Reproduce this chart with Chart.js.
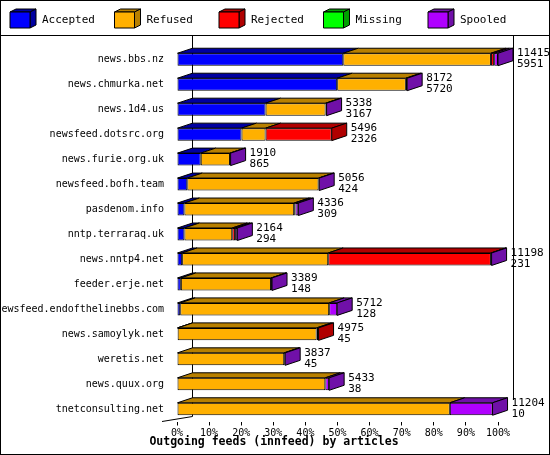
<!DOCTYPE html>
<html>
<head>
<meta charset="utf-8">
<script src="https://cdn.jsdelivr.net/npm/chart.js"></script>
<style>
  body { margin: 0; background: #fff; }
  canvas { display: block; }
</style>
</head>
<body>
<canvas id="feeds" width="550" height="455"></canvas>
<script>
// data (segment lengths in % of axis)
const hosts = ['news.bbs.nz', 'news.chmurka.net', 'news.1d4.us', 'newsfeed.dotsrc.org', 'news.furie.org.uk',
  'newsfeed.bofh.team', 'pasdenom.info', 'nntp.terraraq.uk', 'news.nntp4.net', 'feeder.erje.net',
  'newsfeed.endofthelinebbs.com', 'news.samoylyk.net', 'weretis.net', 'news.quux.org', 'tnetconsulting.net'];
const accepted = [51.8, 49.9, 27.6, 20.1, 7.4, 3.2, 2.3, 2.3, 1.6, 1.2, 1.0, 0.2, 0, 0, 0];
const refused = [46.0, 21.4, 18.7, 7.5, 9.1, 40.9, 34.2, 14.9, 45.5, 28.1, 46.4, 43.3, 33.4, 46.2, 85.0];
const rejected = [1.0, 0, 0, 20.6, 0, 0, 0.4, 0.9, 50.7, 0, 0, 0.6, 0, 0, 0];
const missing = [0, 0, 0, 0, 0, 0, 0, 0, 0, 0, 0, 0, 0, 0, 0];
const spooled = [1.2, 0.4, 0.3, 0, 0.2, 0.2, 0.9, 0.7, 0.2, 0.3, 2.5, 0, 0.3, 1.2, 13.3];
const totals = [11415, 8172, 5338, 5496, 1910, 5056, 4336, 2164, 11198, 3389, 5712, 4975, 3837, 5433, 11204];
const seconds = [5951, 5720, 3167, 2326, 865, 424, 309, 294, 231, 148, 128, 45, 45, 38, 10];
const xTicks = [0, 10, 20, 30, 40, 50, 60, 70, 80, 90, 100];

const names = ['Accepted', 'Refused', 'Rejected', 'Missing', 'Spooled'];
const front = ['#0000ff', '#ffb000', '#ff0000', '#00ff00', '#b000ff'];
const side = ['#0000a0', '#b88000', '#b00000', '#00a000', '#7010a8'];
const series = [accepted, refused, rejected, missing, spooled];

const MONO = '"DejaVu Sans Mono", monospace';
const DX = 15, DY = 5;

function poly(ctx, pts, fill) {
  ctx.beginPath();
  ctx.moveTo(pts[0][0], pts[0][1]);
  pts.slice(1).forEach(p => ctx.lineTo(p[0], p[1]));
  ctx.closePath();
  ctx.fillStyle = fill;
  ctx.fill();
  ctx.strokeStyle = '#000';
  ctx.lineWidth = 1;
  ctx.stroke();
}

const extras = {
  id: 'extras',
  beforeDatasetsDraw(chart) {
    const ctx = chart.ctx;
    const a = chart.chartArea;
    ctx.save();
    ctx.strokeStyle = '#000';
    ctx.lineWidth = 1;
    ctx.beginPath();
    ctx.moveTo(a.left + DX + 0.5, 36);
    ctx.lineTo(a.left + DX + 0.5, a.bottom - DY);
    ctx.lineTo(a.left - 15, a.bottom);
    ctx.moveTo(a.right + DX + 0.5, 36);
    ctx.lineTo(a.right + DX + 0.5, 400);
    ctx.stroke();
    ctx.restore();
  },
  afterDatasetsDraw(chart) {
    const ctx = chart.ctx;
    ctx.save();
    hosts.forEach((h, i) => {
      let last = -1;
      series.forEach((s, d) => {
        if (s[i] <= 0) return;
        const b = chart.getDatasetMeta(d).data[i];
        const x0 = Math.min(b.x, b.base), x1 = Math.max(b.x, b.base);
        const yt = b.y - b.height / 2;
        poly(ctx, [[x0, yt], [x1, yt], [x1 + DX, yt - DY], [x0 + DX, yt - DY]], side[d]);
        last = d;
      });
      if (last < 0) return;
      const b = chart.getDatasetMeta(last).data[i];
      const x1 = Math.max(b.x, b.base);
      const yt = b.y - b.height / 2, yb = b.y + b.height / 2;
      poly(ctx, [[x1, yt], [x1 + DX, yt - DY], [x1 + DX, yb - DY], [x1, yb]], side[last]);
      ctx.fillStyle = '#000';
      ctx.font = '11px ' + MONO;
      ctx.textBaseline = 'middle';
      ctx.textAlign = 'left';
      ctx.fillText(String(totals[i]), x1 + DX + 4, b.y - 6);
      ctx.fillText(String(seconds[i]), x1 + DX + 4, b.y + 5);
    });

    // legend with 3D boxes
    ctx.font = '11px ' + MONO;
    ctx.textBaseline = 'middle';
    names.forEach((n, d) => {
      const x = 10 + d * 104.5, y = 12;
      poly(ctx, [[x, y], [x + 20, y], [x + 26, y - 3], [x + 6, y - 3]], side[d]);
      poly(ctx, [[x + 20, y], [x + 26, y - 3], [x + 26, y + 13], [x + 20, y + 16]], side[d]);
      poly(ctx, [[x, y], [x + 20, y], [x + 20, y + 16], [x, y + 16]], front[d]);
      ctx.fillStyle = '#000';
      ctx.fillText(n, x + 32, 20);
    });
    ctx.beginPath();
    ctx.moveTo(0, 35.5);
    ctx.lineTo(550, 35.5);
    ctx.stroke();

    ctx.font = 'bold 11.5px ' + MONO;
    ctx.textAlign = 'center';
    ctx.fillText('Outgoing feeds (innfeed) by articles', 274, 442);

    ctx.strokeRect(0.5, 0.5, 549, 454);
    ctx.restore();
  }
};

new Chart(document.getElementById('feeds').getContext('2d'), {
  type: 'bar',
  data: {
    labels: hosts,
    datasets: series.map((s, d) => ({
      label: names[d],
      data: s,
      backgroundColor: front[d],
      borderColor: '#000',
      borderWidth: 1,
      borderSkipped: false,
      barPercentage: 0.5,
      categoryPercentage: 1
    }))
  },
  options: {
    indexAxis: 'y',
    responsive: false,
    animation: false,
    layout: { padding: { top: 47, right: 52, bottom: 0, left: 0 } },
    plugins: { legend: { display: false }, tooltip: { enabled: false }, title: { display: false } },
    scales: {
      x: {
        stacked: true,
        min: 0,
        max: 100,
        afterFit: s => { s.height = 33.5; },
        afterBuildTicks: s => { s.ticks = xTicks.map(v => ({ value: v })); },
        grid: { drawOnChartArea: false, tickLength: 4, color: '#000' },
        border: { display: false },
        ticks: { padding: 2, color: '#000', font: { family: MONO, size: 10 }, callback: v => v + '%' }
      },
      y: {
        stacked: true,
        afterFit: s => { s.width = 177; },
        grid: { display: false },
        border: { display: false },
        ticks: { padding: 5, color: '#000', font: { family: MONO, size: 10 } }
      }
    }
  },
  plugins: [extras]
});
</script>
</body>
</html>
